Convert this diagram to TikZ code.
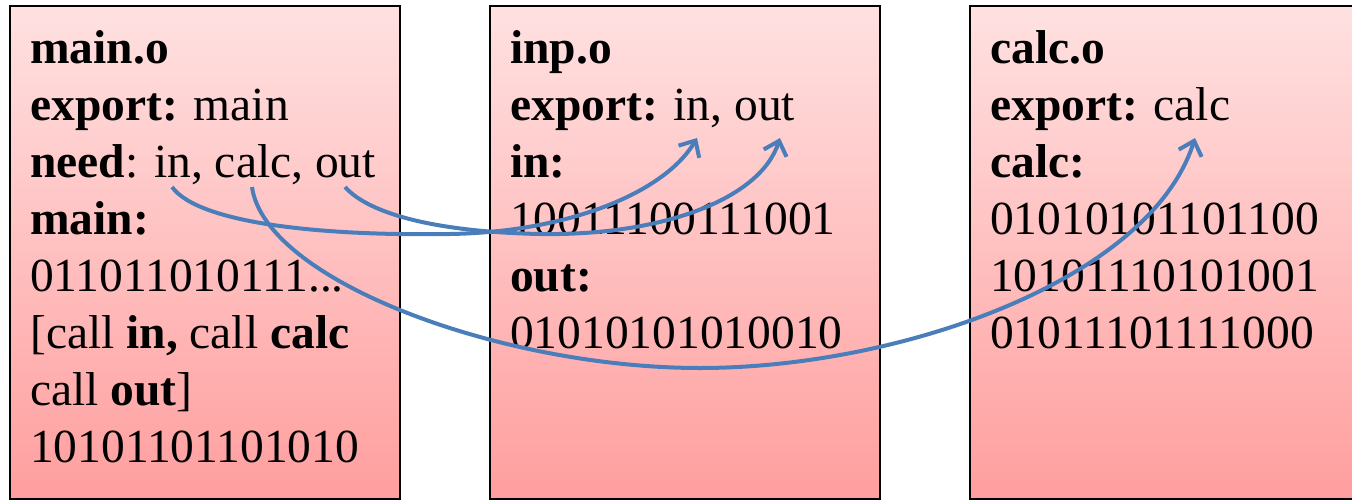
\documentclass[tikz,border=0pt]{standalone}
\usepackage{fontspec}
\setmainfont{Liberation Serif}
\newfontfamily\objfont{Liberation Serif}
\usetikzlibrary{arrows.meta}
\definecolor{pinktop}{RGB}{255,225,225}
\definecolor{pinkbot}{RGB}{255,158,158}
\definecolor{linkblue}{RGB}{74,126,187}
\begin{document}
\begin{tikzpicture}[x=1pt,y=-1pt,
  objbox/.style={draw=black,line width=2.5pt,top color=pinktop,bottom color=pinkbot},
  objtext/.style={anchor=base west,inner sep=0pt,align=left,font=\objfont\fontsize{47.5}{57}\selectfont},
  link/.style={draw=linkblue,line width=4pt,-{Straight Barb[length=13pt,width=24pt,line width=4pt]}}]
\useasboundingbox (0,0) rectangle (1352,501);
\clip (0,0) rectangle (1352,501);
\path[objbox] (10,6) rectangle (400,499);
\path[objbox] (490,6) rectangle (880,499);
\path[objbox] (970,6) rectangle (1365,499);
\node[objtext] (mainobj) at (30,462) {\textbf{main.o}\\
\textbf{export:} main\\
\textbf{need}: in, calc, out\\
\textbf{main:}\\
011011010111...\\
{[}call \textbf{in,} call \textbf{calc}\\
call \textbf{out}]\\
10101101101010};
\node[objtext] (inpobj) at (510,348) {\textbf{inp.o}\\
\textbf{export:} in, out\\
\textbf{in:}\\
10011100111001\\
\textbf{out:}\\
01010101010010};
\node[objtext] (calcobj) at (990,348) {\textbf{calc.o}\\
\textbf{export:} calc\\
\textbf{calc:}\\
01010101101100\\
10101110101001\\
01011101111000};
\coordinate (needin) at (172,187);
\coordinate (needcalc) at (252,187);
\coordinate (needout) at (345,187);
\coordinate (expin) at (697,138);
\coordinate (expout) at (780,138);
\coordinate (expcalc) at (1195,138);
\draw[link] (needin) .. controls (200,225) and (330,236) .. (450,234) .. controls (570,232) and (665,192) .. (expin);
\draw[link] (needout) .. controls (370,215) and (440,232) .. (540,234) .. controls (660,236) and (760,200) .. (expout);
\draw[link] (needcalc) .. controls (265,280) and (500,368) .. (700,368) .. controls (900,368) and (1150,280) .. (expcalc);
\end{tikzpicture}
\end{document}
